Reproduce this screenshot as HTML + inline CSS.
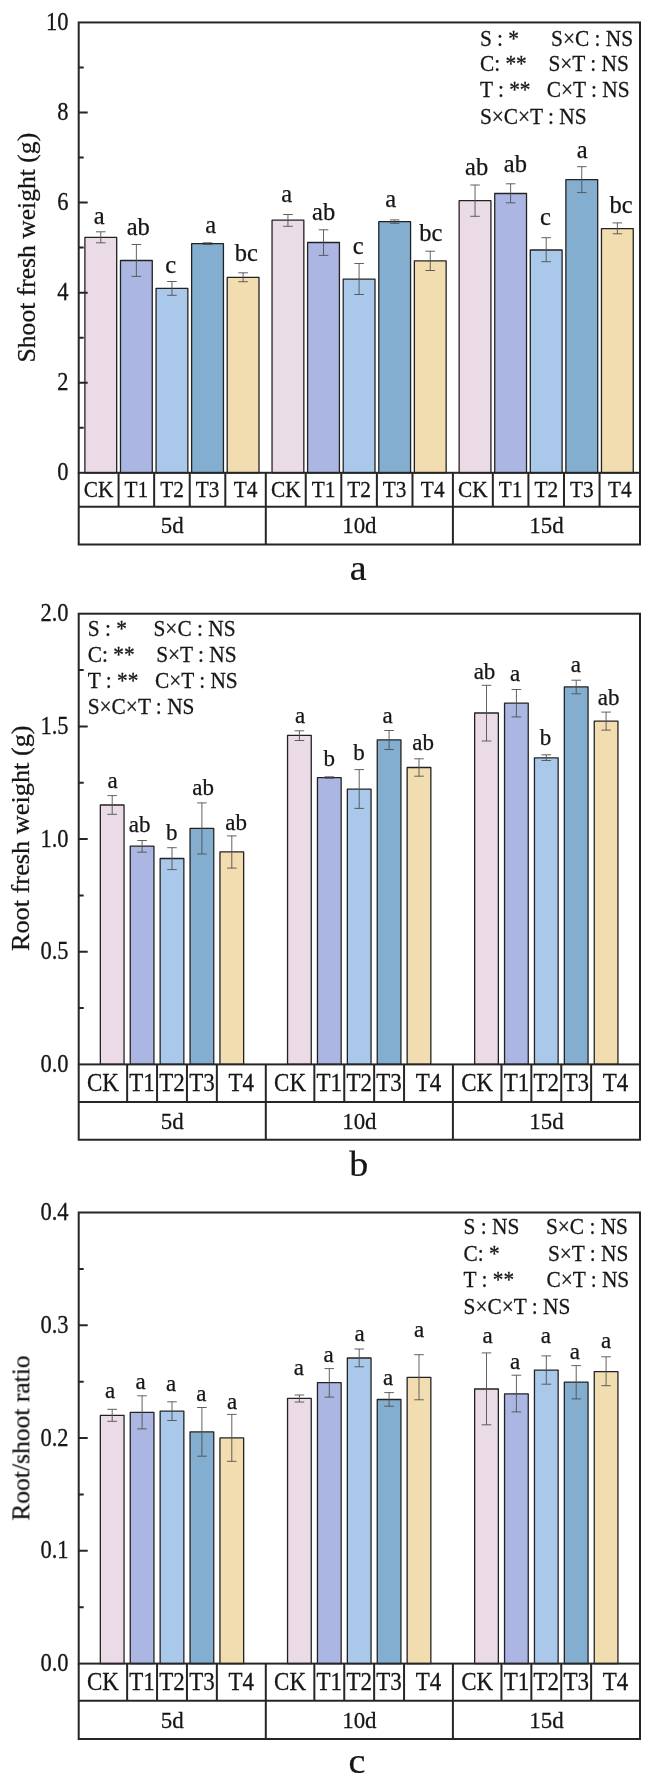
<!DOCTYPE html>
<html><head><meta charset="utf-8"><title>chart</title>
<style>
html,body{margin:0;padding:0;background:#fff;}
body{width:665px;height:1783px;overflow:hidden;}
svg{display:block;}
text{font-family:"Liberation Serif",serif;fill:#141414;stroke:#141414;stroke-width:0.25px;}
.tk{font-size:22.5px;text-anchor:end;}
.yl{font-size:26.4px;text-anchor:middle;}
.lg{font-size:21.35px;text-anchor:start;}
.lt{font-size:24.5px;text-anchor:middle;}
.tb{font-size:21.3px;text-anchor:middle;}
.tg{font-size:22.9px;text-anchor:middle;}
.pl{font-size:38px;text-anchor:middle;}
.ax{stroke:#262626;stroke-width:2;fill:none;}
.b{stroke:#242424;stroke-width:1.3;stroke-linejoin:round;}
.e{stroke:#505050;stroke-width:0.9;fill:none;}
</style></head><body>
<svg width="665" height="1783" viewBox="0 0 665 1783">
<defs><filter id="sf" x="0" y="0" width="665" height="1783" filterUnits="userSpaceOnUse"><feGaussianBlur stdDeviation="0.4"/></filter></defs>
<rect x="0" y="0" width="665" height="1783" fill="#fff"/>
<g filter="url(#sf)">
<g>
<rect class="b" x="84.89" y="237.3" width="31.8" height="235.5" fill="#EADBE6"/>
<path class="e" d="M100.79 231.8V242.8M95.99 231.8H105.59M95.99 242.8H105.59"/>
<text class="lt" transform="translate(99.1 224)">a</text>
<rect class="b" x="120.47" y="260.5" width="31.8" height="212.3" fill="#ABB7E2"/>
<path class="e" d="M136.37 244.5V276.4M131.57 244.5H141.17M131.57 276.4H141.17"/>
<text class="lt" transform="translate(138.3 234.5)">ab</text>
<rect class="b" x="156.05" y="288.4" width="31.8" height="184.4" fill="#AAC8E9"/>
<path class="e" d="M171.95 281.5V295.3M167.15 281.5H176.75M167.15 295.3H176.75"/>
<text class="lt" transform="translate(170.6 272.8)">c</text>
<rect class="b" x="191.63" y="243.6" width="31.8" height="229.2" fill="#83AECF"/>
<path class="e" d="M207.53 242.8V244.5M202.73 242.8H212.33M202.73 244.5H212.33"/>
<text class="lt" transform="translate(210.8 232.5)">a</text>
<rect class="b" x="227.21" y="277.3" width="31.8" height="195.5" fill="#F2DDB1"/>
<path class="e" d="M243.11 272.8V281.7M238.31 272.8H247.91M238.31 281.7H247.91"/>
<text class="lt" transform="translate(246.4 261)">bc</text>
<rect class="b" x="272.04" y="220.2" width="31.8" height="252.6" fill="#EADBE6"/>
<path class="e" d="M287.94 214.5V226.3M283.14 214.5H292.74M283.14 226.3H292.74"/>
<text class="lt" transform="translate(286.6 202.2)">a</text>
<rect class="b" x="307.62" y="242.5" width="31.8" height="230.3" fill="#ABB7E2"/>
<path class="e" d="M323.52 229.8V255.4M318.72 229.8H328.32M318.72 255.4H328.32"/>
<text class="lt" transform="translate(323.6 220)">ab</text>
<rect class="b" x="343.2" y="279.2" width="31.8" height="193.6" fill="#AAC8E9"/>
<path class="e" d="M359.1 263.5V294.5M354.3 263.5H363.9M354.3 294.5H363.9"/>
<text class="lt" transform="translate(358.2 253.6)">c</text>
<rect class="b" x="378.78" y="221.7" width="31.8" height="251.1" fill="#83AECF"/>
<path class="e" d="M394.68 219.9V223.3M389.88 219.9H399.48M389.88 223.3H399.48"/>
<text class="lt" transform="translate(390.8 207.3)">a</text>
<rect class="b" x="414.36" y="260.8" width="31.8" height="212" fill="#F2DDB1"/>
<path class="e" d="M430.26 251.2V270.5M425.46 251.2H435.06M425.46 270.5H435.06"/>
<text class="lt" transform="translate(430.7 241)">bc</text>
<rect class="b" x="459.14" y="200.7" width="31.8" height="272.1" fill="#EADBE6"/>
<path class="e" d="M475.04 185V216.3M470.24 185H479.84M470.24 216.3H479.84"/>
<text class="lt" transform="translate(476.6 174.5)">ab</text>
<rect class="b" x="494.72" y="193.5" width="31.8" height="279.3" fill="#ABB7E2"/>
<path class="e" d="M510.62 183.8V202.8M505.82 183.8H515.42M505.82 202.8H515.42"/>
<text class="lt" transform="translate(515.4 171.5)">ab</text>
<rect class="b" x="530.3" y="250" width="31.8" height="222.8" fill="#AAC8E9"/>
<path class="e" d="M546.2 237.7V261.7M541.4 237.7H551M541.4 261.7H551"/>
<text class="lt" transform="translate(545.5 225)">c</text>
<rect class="b" x="565.88" y="179.6" width="31.8" height="293.2" fill="#83AECF"/>
<path class="e" d="M581.78 166.7V192.6M576.98 166.7H586.58M576.98 192.6H586.58"/>
<text class="lt" transform="translate(582.3 157.7)">a</text>
<rect class="b" x="601.46" y="228.6" width="31.8" height="244.2" fill="#F2DDB1"/>
<path class="e" d="M617.36 222.9V233.8M612.56 222.9H622.16M612.56 233.8H622.16"/>
<text class="lt" transform="translate(621.1 213)">bc</text>
<rect class="ax" x="78.7" y="22.45" width="561.3" height="450.35"/>
<text class="tk" transform="translate(68.5 480.4) scale(1 1.14)">0</text>
<text class="tk" transform="translate(68.5 390.33) scale(1 1.14)">2</text>
<text class="tk" transform="translate(68.5 300.26) scale(1 1.14)">4</text>
<text class="tk" transform="translate(68.5 210.19) scale(1 1.14)">6</text>
<text class="tk" transform="translate(68.5 120.12) scale(1 1.14)">8</text>
<text class="tk" transform="translate(68.5 30.05) scale(1 1.14)">10</text>
<path class="ax" d="M78.7 382.73h9M78.7 292.66h9M78.7 202.59h9M78.7 112.52h9M78.7 427.76h5M78.7 337.69h5M78.7 247.62h5M78.7 157.56h5M78.7 67.48h5"/>
<text class="yl" style="font-size:25.6px" transform="translate(35.2 247.62) rotate(-90)">Shoot fresh weight (g)</text>
<text class="lg" transform="translate(479.9 45.7) scale(1 1.1)">S : *</text>
<text class="lg" transform="translate(551.1 45.7) scale(1 1.1)">S×C : NS</text>
<text class="lg" transform="translate(479.9 71.4) scale(1 1.1)">C: **</text>
<text class="lg" transform="translate(548.4 71.4) scale(1 1.1)">S×T : NS</text>
<text class="lg" transform="translate(479.9 97.2) scale(1 1.1)">T : **</text>
<text class="lg" transform="translate(546.8 97.2) scale(1 1.1)">C×T : NS</text>
<text class="lg" transform="translate(479.9 123.7) scale(1 1.1)">S×C×T : NS</text>
<text class="tb" transform="translate(98.64 497.47) scale(1 1.1)">CK</text>
<text class="tb" transform="translate(136.37 497.47) scale(1 1.1)">T1</text>
<text class="tb" transform="translate(171.95 497.47) scale(1 1.1)">T2</text>
<text class="tb" transform="translate(207.53 497.47) scale(1 1.1)">T3</text>
<text class="tb" transform="translate(245.56 497.47) scale(1 1.1)">T4</text>
<text class="tg" transform="translate(172.25 533.3) scale(1 1.04)">5d</text>
<text class="tb" transform="translate(285.76 497.47) scale(1 1.1)">CK</text>
<text class="tb" transform="translate(323.52 497.47) scale(1 1.1)">T1</text>
<text class="tb" transform="translate(359.1 497.47) scale(1 1.1)">T2</text>
<text class="tb" transform="translate(394.68 497.47) scale(1 1.1)">T3</text>
<text class="tb" transform="translate(432.69 497.47) scale(1 1.1)">T4</text>
<text class="tg" transform="translate(359.35 533.3) scale(1 1.04)">10d</text>
<text class="tb" transform="translate(472.87 497.47) scale(1 1.1)">CK</text>
<text class="tb" transform="translate(510.62 497.47) scale(1 1.1)">T1</text>
<text class="tb" transform="translate(546.2 497.47) scale(1 1.1)">T2</text>
<text class="tb" transform="translate(581.78 497.47) scale(1 1.1)">T3</text>
<text class="tb" transform="translate(619.79 497.47) scale(1 1.1)">T4</text>
<text class="tg" transform="translate(546.45 533.3) scale(1 1.04)">15d</text>
<path class="ax" d="M78.7 472.8V544.45H640V472.8M78.7 506.75H640M118.58 472.8V506.75M154.16 472.8V506.75M189.74 472.8V506.75M225.32 472.8V506.75M265.8 472.8V544.45M305.73 472.8V506.75M341.31 472.8V506.75M376.89 472.8V506.75M412.47 472.8V506.75M452.9 472.8V544.45M492.83 472.8V506.75M528.41 472.8V506.75M563.99 472.8V506.75M599.57 472.8V506.75"/>
<text class="pl" transform="translate(358.3 579.6) scale(1 0.93)">a</text>
</g>
<g>
<rect class="b" x="100.35" y="805" width="23.7" height="259.4" fill="#EADBE6"/>
<path class="e" d="M112.2 795.6V814.3M107.4 795.6H117M107.4 814.3H117"/>
<text class="lt" style="font-size:23px" transform="translate(112.6 787.5)">a</text>
<rect class="b" x="130.25" y="846.2" width="23.7" height="218.2" fill="#ABB7E2"/>
<path class="e" d="M142.1 840.5V852.2M137.3 840.5H146.9M137.3 852.2H146.9"/>
<text class="lt" style="font-size:23px" transform="translate(139.7 831.7)">ab</text>
<rect class="b" x="160.15" y="858.5" width="23.7" height="205.9" fill="#AAC8E9"/>
<path class="e" d="M172 847.7V869.6M167.2 847.7H176.8M167.2 869.6H176.8"/>
<text class="lt" style="font-size:23px" transform="translate(171.7 840.4)">b</text>
<rect class="b" x="190.05" y="828.4" width="23.7" height="236" fill="#83AECF"/>
<path class="e" d="M201.9 802.9V854M197.1 802.9H206.7M197.1 854H206.7"/>
<text class="lt" style="font-size:23px" transform="translate(203.1 795)">ab</text>
<rect class="b" x="219.95" y="851.9" width="23.7" height="212.5" fill="#F2DDB1"/>
<path class="e" d="M231.8 835.9V868.1M227 835.9H236.6M227 868.1H236.6"/>
<text class="lt" style="font-size:23px" transform="translate(236.2 829.6)">ab</text>
<rect class="b" x="287.55" y="735.3" width="23.7" height="329.1" fill="#EADBE6"/>
<path class="e" d="M299.4 730.8V740.5M294.6 730.8H304.2M294.6 740.5H304.2"/>
<text class="lt" style="font-size:23px" transform="translate(300.2 722.7)">a</text>
<rect class="b" x="317.45" y="777.7" width="23.7" height="286.7" fill="#ABB7E2"/>
<path class="e" d="M329.3 776.8V778.2M324.5 776.8H334.1M324.5 778.2H334.1"/>
<text class="lt" style="font-size:23px" transform="translate(329.3 766)">b</text>
<rect class="b" x="347.35" y="789.2" width="23.7" height="275.2" fill="#AAC8E9"/>
<path class="e" d="M359.2 769.6V808.4M354.4 769.6H364M354.4 808.4H364"/>
<text class="lt" style="font-size:23px" transform="translate(358.9 760.3)">b</text>
<rect class="b" x="377.25" y="739.8" width="23.7" height="324.6" fill="#83AECF"/>
<path class="e" d="M389.1 730.5V749.5M384.3 730.5H393.9M384.3 749.5H393.9"/>
<text class="lt" style="font-size:23px" transform="translate(387.7 722.7)">a</text>
<rect class="b" x="407.15" y="767.5" width="23.7" height="296.9" fill="#F2DDB1"/>
<path class="e" d="M419 758.8V776.2M414.2 758.8H423.8M414.2 776.2H423.8"/>
<text class="lt" style="font-size:23px" transform="translate(423.2 749.8)">ab</text>
<rect class="b" x="474.65" y="713" width="23.7" height="351.4" fill="#EADBE6"/>
<path class="e" d="M486.5 685.3V741M481.7 685.3H491.3M481.7 741H491.3"/>
<text class="lt" style="font-size:23px" transform="translate(484.5 678.7)">ab</text>
<rect class="b" x="504.55" y="703.1" width="23.7" height="361.3" fill="#ABB7E2"/>
<path class="e" d="M516.4 689.5V716.9M511.6 689.5H521.2M511.6 716.9H521.2"/>
<text class="lt" style="font-size:23px" transform="translate(515.2 681.1)">a</text>
<rect class="b" x="534.45" y="757.8" width="23.7" height="306.6" fill="#AAC8E9"/>
<path class="e" d="M546.3 754.8V760.5M541.5 754.8H551.1M541.5 760.5H551.1"/>
<text class="lt" style="font-size:23px" transform="translate(545.5 745.2)">b</text>
<rect class="b" x="564.35" y="686.8" width="23.7" height="377.6" fill="#83AECF"/>
<path class="e" d="M576.2 680.2V693.8M571.4 680.2H581M571.4 693.8H581"/>
<text class="lt" style="font-size:23px" transform="translate(575.8 672.1)">a</text>
<rect class="b" x="594.25" y="721.1" width="23.7" height="343.3" fill="#F2DDB1"/>
<path class="e" d="M606.1 712.1V730.1M601.3 712.1H610.9M601.3 730.1H610.9"/>
<text class="lt" style="font-size:23px" transform="translate(608.6 704.6)">ab</text>
<rect class="ax" x="78.7" y="613.7" width="561.3" height="450.7"/>
<text class="tk" transform="translate(68.5 1072) scale(1 1.14)">0.0</text>
<text class="tk" transform="translate(68.5 959.33) scale(1 1.14)">0.5</text>
<text class="tk" transform="translate(68.5 846.65) scale(1 1.14)">1.0</text>
<text class="tk" transform="translate(68.5 733.98) scale(1 1.14)">1.5</text>
<text class="tk" transform="translate(68.5 621.3) scale(1 1.14)">2.0</text>
<path class="ax" d="M78.7 951.73h9M78.7 839.05h9M78.7 726.38h9M78.7 1008.06h5M78.7 895.39h5M78.7 782.71h5M78.7 670.04h5"/>
<text class="yl" style="font-size:25.8px" transform="translate(29.4 838.25) rotate(-90) scale(1.02 1)">Root fresh weight (g)</text>
<text class="lg" transform="translate(87.7 635.6) scale(1 1.1)">S : *</text>
<text class="lg" transform="translate(153.5 635.6) scale(1 1.1)">S×C : NS</text>
<text class="lg" transform="translate(87.7 661.8) scale(1 1.1)">C: **</text>
<text class="lg" transform="translate(156.2 661.8) scale(1 1.1)">S×T : NS</text>
<text class="lg" transform="translate(87.7 687.6) scale(1 1.1)">T : **</text>
<text class="lg" transform="translate(154.9 687.6) scale(1 1.1)">C×T : NS</text>
<text class="lg" transform="translate(87.7 713.8) scale(1 1.1)">S×C×T : NS</text>
<text class="tb" style="font-size:23px" transform="translate(102.93 1090.9) scale(1 1.07)">CK</text>
<text class="tb" style="font-size:23px" transform="translate(142.1 1090.9) scale(1 1.07)">T1</text>
<text class="tb" style="font-size:23px" transform="translate(172 1090.9) scale(1 1.07)">T2</text>
<text class="tb" style="font-size:23px" transform="translate(201.9 1090.9) scale(1 1.07)">T3</text>
<text class="tb" style="font-size:23px" transform="translate(241.32 1090.9) scale(1 1.07)">T4</text>
<text class="tg" transform="translate(172.25 1128.6) scale(1 1.04)">5d</text>
<text class="tb" style="font-size:23px" transform="translate(290.08 1090.9) scale(1 1.07)">CK</text>
<text class="tb" style="font-size:23px" transform="translate(329.3 1090.9) scale(1 1.07)">T1</text>
<text class="tb" style="font-size:23px" transform="translate(359.2 1090.9) scale(1 1.07)">T2</text>
<text class="tb" style="font-size:23px" transform="translate(389.1 1090.9) scale(1 1.07)">T3</text>
<text class="tb" style="font-size:23px" transform="translate(428.47 1090.9) scale(1 1.07)">T4</text>
<text class="tg" transform="translate(359.35 1128.6) scale(1 1.04)">10d</text>
<text class="tb" style="font-size:23px" transform="translate(477.17 1090.9) scale(1 1.07)">CK</text>
<text class="tb" style="font-size:23px" transform="translate(516.4 1090.9) scale(1 1.07)">T1</text>
<text class="tb" style="font-size:23px" transform="translate(546.3 1090.9) scale(1 1.07)">T2</text>
<text class="tb" style="font-size:23px" transform="translate(576.2 1090.9) scale(1 1.07)">T3</text>
<text class="tb" style="font-size:23px" transform="translate(615.58 1090.9) scale(1 1.07)">T4</text>
<text class="tg" transform="translate(546.45 1128.6) scale(1 1.04)">15d</text>
<path class="ax" d="M78.7 1064.4V1139.8H640V1064.4M78.7 1102H640M127.15 1064.4V1102M157.05 1064.4V1102M186.95 1064.4V1102M216.85 1064.4V1102M265.8 1064.4V1139.8M314.35 1064.4V1102M344.25 1064.4V1102M374.15 1064.4V1102M404.05 1064.4V1102M452.9 1064.4V1139.8M501.45 1064.4V1102M531.35 1064.4V1102M561.25 1064.4V1102M591.15 1064.4V1102"/>
<text class="pl" transform="translate(358.7 1176.3) scale(1 0.97)">b</text>
</g>
<g>
<rect class="b" x="100.35" y="1415.3" width="23.7" height="248.3" fill="#EADBE6"/>
<path class="e" d="M112.2 1409.3V1421.3M107.4 1409.3H117M107.4 1421.3H117"/>
<text class="lt" style="font-size:23px" transform="translate(110 1397.9)">a</text>
<rect class="b" x="130.25" y="1412.3" width="23.7" height="251.3" fill="#ABB7E2"/>
<path class="e" d="M142.1 1395.8V1428.9M137.3 1395.8H146.9M137.3 1428.9H146.9"/>
<text class="lt" style="font-size:23px" transform="translate(140.6 1388.9)">a</text>
<rect class="b" x="160.15" y="1411.1" width="23.7" height="252.5" fill="#AAC8E9"/>
<path class="e" d="M172 1401.8V1420.5M167.2 1401.8H176.8M167.2 1420.5H176.8"/>
<text class="lt" style="font-size:23px" transform="translate(171.2 1391)">a</text>
<rect class="b" x="190.05" y="1431.9" width="23.7" height="231.7" fill="#83AECF"/>
<path class="e" d="M201.9 1407.5V1456.2M197.1 1407.5H206.7M197.1 1456.2H206.7"/>
<text class="lt" style="font-size:23px" transform="translate(201.3 1400.9)">a</text>
<rect class="b" x="219.95" y="1437.9" width="23.7" height="225.7" fill="#F2DDB1"/>
<path class="e" d="M231.8 1414.4V1461.3M227 1414.4H236.6M227 1461.3H236.6"/>
<text class="lt" style="font-size:23px" transform="translate(232.1 1408.7)">a</text>
<rect class="b" x="287.55" y="1398.3" width="23.7" height="265.3" fill="#EADBE6"/>
<path class="e" d="M299.4 1395V1402M294.6 1395H304.2M294.6 1402H304.2"/>
<text class="lt" style="font-size:23px" transform="translate(298.9 1374.6)">a</text>
<rect class="b" x="317.45" y="1382.7" width="23.7" height="280.9" fill="#ABB7E2"/>
<path class="e" d="M329.3 1368.6V1397.1M324.5 1368.6H334.1M324.5 1397.1H334.1"/>
<text class="lt" style="font-size:23px" transform="translate(328.6 1361.6)">a</text>
<rect class="b" x="347.35" y="1358" width="23.7" height="305.6" fill="#AAC8E9"/>
<path class="e" d="M359.2 1349V1366.8M354.4 1349H364M354.4 1366.8H364"/>
<text class="lt" style="font-size:23px" transform="translate(359.5 1340.9)">a</text>
<rect class="b" x="377.25" y="1399.5" width="23.7" height="264.1" fill="#83AECF"/>
<path class="e" d="M389.1 1392.6V1406.2M384.3 1392.6H393.9M384.3 1406.2H393.9"/>
<text class="lt" style="font-size:23px" transform="translate(388.1 1384.8)">a</text>
<rect class="b" x="407.15" y="1377.3" width="23.7" height="286.3" fill="#F2DDB1"/>
<path class="e" d="M419 1354.7V1399.8M414.2 1354.7H423.8M414.2 1399.8H423.8"/>
<text class="lt" style="font-size:23px" transform="translate(419.2 1336.6)">a</text>
<rect class="b" x="474.65" y="1389" width="23.7" height="274.6" fill="#EADBE6"/>
<path class="e" d="M486.5 1352.9V1424.8M481.7 1352.9H491.3M481.7 1424.8H491.3"/>
<text class="lt" style="font-size:23px" transform="translate(487.7 1343.3)">a</text>
<rect class="b" x="504.55" y="1393.8" width="23.7" height="269.8" fill="#ABB7E2"/>
<path class="e" d="M516.4 1375.2V1411.9M511.6 1375.2H521.2M511.6 1411.9H521.2"/>
<text class="lt" style="font-size:23px" transform="translate(515.2 1368.9)">a</text>
<rect class="b" x="534.45" y="1370.1" width="23.7" height="293.5" fill="#AAC8E9"/>
<path class="e" d="M546.3 1355.9V1384.2M541.5 1355.9H551.1M541.5 1384.2H551.1"/>
<text class="lt" style="font-size:23px" transform="translate(545.75 1342.7)">a</text>
<rect class="b" x="564.35" y="1382.1" width="23.7" height="281.5" fill="#83AECF"/>
<path class="e" d="M576.2 1365.6V1398.9M571.4 1365.6H581M571.4 1398.9H581"/>
<text class="lt" style="font-size:23px" transform="translate(574.9 1358.6)">a</text>
<rect class="b" x="594.25" y="1371.6" width="23.7" height="292" fill="#F2DDB1"/>
<path class="e" d="M606.1 1356.8V1385.7M601.3 1356.8H610.9M601.3 1385.7H610.9"/>
<text class="lt" style="font-size:23px" transform="translate(606 1347.5)">a</text>
<rect class="ax" x="78.7" y="1212.5" width="561.3" height="451.1"/>
<text class="tk" transform="translate(68.5 1671.2) scale(1 1.14)">0.0</text>
<text class="tk" transform="translate(68.5 1558.42) scale(1 1.14)">0.1</text>
<text class="tk" transform="translate(68.5 1445.65) scale(1 1.14)">0.2</text>
<text class="tk" transform="translate(68.5 1332.88) scale(1 1.14)">0.3</text>
<text class="tk" transform="translate(68.5 1220.1) scale(1 1.14)">0.4</text>
<path class="ax" d="M78.7 1550.82h9M78.7 1438.05h9M78.7 1325.28h9M78.7 1607.21h5M78.7 1494.44h5M78.7 1381.66h5M78.7 1268.89h5"/>
<text class="yl" style="font-size:25.8px" transform="translate(29.4 1438.05) rotate(-90) scale(0.99 1)">Root/shoot ratio</text>
<text class="lg" transform="translate(463.6 1234.4) scale(1 1.1)">S : NS</text>
<text class="lg" transform="translate(545.9 1234.4) scale(1 1.1)">S×C : NS</text>
<text class="lg" transform="translate(463.6 1261) scale(1 1.1)">C: *</text>
<text class="lg" transform="translate(547.9 1261) scale(1 1.1)">S×T : NS</text>
<text class="lg" transform="translate(463.6 1286.7) scale(1 1.1)">T : **</text>
<text class="lg" transform="translate(546.4 1286.7) scale(1 1.1)">C×T : NS</text>
<text class="lg" transform="translate(463.6 1313.9) scale(1 1.1)">S×C×T : NS</text>
<text class="tb" style="font-size:23px" transform="translate(102.93 1689.9) scale(1 1.07)">CK</text>
<text class="tb" style="font-size:23px" transform="translate(142.1 1689.9) scale(1 1.07)">T1</text>
<text class="tb" style="font-size:23px" transform="translate(172 1689.9) scale(1 1.07)">T2</text>
<text class="tb" style="font-size:23px" transform="translate(201.9 1689.9) scale(1 1.07)">T3</text>
<text class="tb" style="font-size:23px" transform="translate(241.32 1689.9) scale(1 1.07)">T4</text>
<text class="tg" transform="translate(172.25 1727.55) scale(1 1.04)">5d</text>
<text class="tb" style="font-size:23px" transform="translate(290.08 1689.9) scale(1 1.07)">CK</text>
<text class="tb" style="font-size:23px" transform="translate(329.3 1689.9) scale(1 1.07)">T1</text>
<text class="tb" style="font-size:23px" transform="translate(359.2 1689.9) scale(1 1.07)">T2</text>
<text class="tb" style="font-size:23px" transform="translate(389.1 1689.9) scale(1 1.07)">T3</text>
<text class="tb" style="font-size:23px" transform="translate(428.47 1689.9) scale(1 1.07)">T4</text>
<text class="tg" transform="translate(359.35 1727.55) scale(1 1.04)">10d</text>
<text class="tb" style="font-size:23px" transform="translate(477.17 1689.9) scale(1 1.07)">CK</text>
<text class="tb" style="font-size:23px" transform="translate(516.4 1689.9) scale(1 1.07)">T1</text>
<text class="tb" style="font-size:23px" transform="translate(546.3 1689.9) scale(1 1.07)">T2</text>
<text class="tb" style="font-size:23px" transform="translate(576.2 1689.9) scale(1 1.07)">T3</text>
<text class="tb" style="font-size:23px" transform="translate(615.58 1689.9) scale(1 1.07)">T4</text>
<text class="tg" transform="translate(546.45 1727.55) scale(1 1.04)">15d</text>
<path class="ax" d="M78.7 1663.6V1738.9H640V1663.6M78.7 1700.8H640M127.15 1663.6V1700.8M157.05 1663.6V1700.8M186.95 1663.6V1700.8M216.85 1663.6V1700.8M265.8 1663.6V1738.9M314.35 1663.6V1700.8M344.25 1663.6V1700.8M374.15 1663.6V1700.8M404.05 1663.6V1700.8M452.9 1663.6V1738.9M501.45 1663.6V1700.8M531.35 1663.6V1700.8M561.25 1663.6V1700.8M591.15 1663.6V1700.8"/>
<text class="pl" transform="translate(357 1773) scale(1 0.93)">c</text>
</g>
</g>
</svg>
</body></html>
